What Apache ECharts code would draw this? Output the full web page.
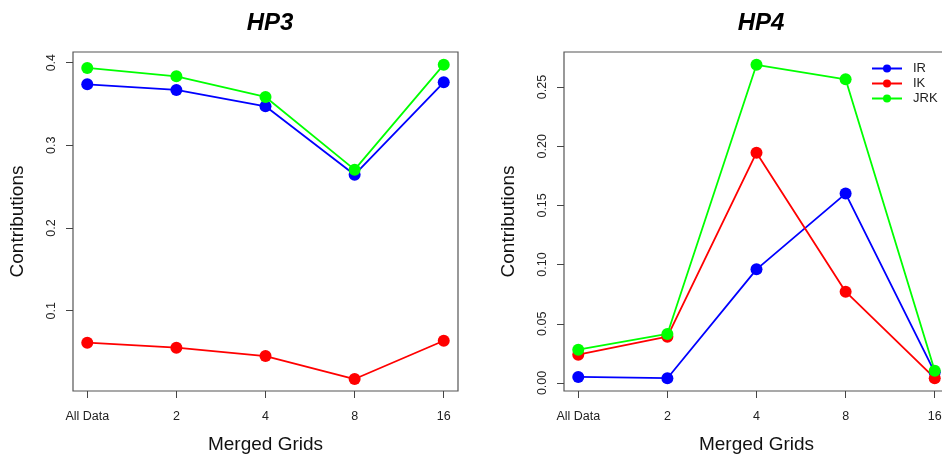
<!DOCTYPE html>
<html>
<head>
<meta charset="utf-8">
<script src="https://cdn.jsdelivr.net/npm/echarts@6/dist/echarts.min.js"></script>
<style>
  html, body { margin: 0; padding: 0; background: #fff; }
  #container { width: 942px; height: 456px; }
</style>
</head>
<body>
<div id="container"></div>
<script>
var categories = ['All Data', '2', '4', '8', '16'];
var seriesNames = ['IR', 'IK', 'JRK'];
var colors = ['#0000ff', '#ff0000', '#00ff00'];

// HP3 panel
var hp3IR = [0.3738, 0.3670, 0.3472, 0.2645, 0.3763];
var hp3IK = [0.0613, 0.0553, 0.0452, 0.0174, 0.0637];
var hp3JRK = [0.3936, 0.3835, 0.3585, 0.2706, 0.3976];

// HP4 panel
var hp4IR = [0.0051, 0.0040, 0.0960, 0.1600, 0.0090];
var hp4IK = [0.0239, 0.0391, 0.1945, 0.0771, 0.0040];
var hp4JRK = [0.0281, 0.0414, 0.2688, 0.2565, 0.0104];

var hp3Ticks = [0.1, 0.2, 0.3, 0.4];
var hp4Ticks = [0.00, 0.05, 0.10, 0.15, 0.20, 0.25];

var dom = document.getElementById('container');
var myChart = echarts.init(dom, null, { renderer: 'canvas' });

var font = 'Liberation Sans, Arial, sans-serif';
var xIdx = categories.map(function (c, i) { return i; });

function pairs(vals) {
  return vals.map(function (v, i) { return [i, v]; });
}

function xAxisFor(gridIndex) {
  return {
    type: 'value', gridIndex: gridIndex, min: -0.16, max: 4.16,
    name: 'Merged Grids', nameLocation: 'middle', nameGap: 44,
    nameTextStyle: { fontFamily: font, fontSize: 19, color: '#111' },
    axisLine: { show: false, onZero: false },
    splitLine: { show: false },
    axisTick: { show: true, length: 7, customValues: xIdx, lineStyle: { color: '#444' } },
    axisLabel: {
      customValues: xIdx, margin: 19, fontFamily: font, fontSize: 12.5, color: '#222',
      formatter: function (v) { return categories[Math.round(v)]; }
    }
  };
}

function yAxisFor(gridIndex, min, max, ticks, digits) {
  return {
    type: 'value', gridIndex: gridIndex, min: min, max: max,
    name: 'Contributions', nameLocation: 'middle', nameGap: 46, nameRotate: 90,
    nameTextStyle: { fontFamily: font, fontSize: 19, color: '#111' },
    axisLine: { show: false, onZero: false },
    splitLine: { show: false },
    axisTick: { show: true, length: 7, customValues: ticks, lineStyle: { color: '#444' } },
    axisLabel: {
      customValues: ticks, rotate: 90, margin: 15, fontFamily: font, fontSize: 12.5, color: '#222',
      formatter: function (v) { return v.toFixed(digits); }
    }
  };
}

function lineSeries(name, color, vals, idx) {
  return {
    name: name, type: 'line', xAxisIndex: idx, yAxisIndex: idx,
    data: pairs(vals),
    symbol: 'circle', symbolSize: 12,
    lineStyle: { color: color, width: 1.8 },
    itemStyle: { color: color },
    animation: false
  };
}

var option = {
  backgroundColor: '#fff',
  title: [
    { text: 'HP3', left: 265, top: 6, textAlign: 'center',
      textStyle: { fontFamily: font, fontSize: 24, fontWeight: 'bold', fontStyle: 'italic', color: '#000' } },
    { text: 'HP4', left: 756, top: 6, textAlign: 'center',
      textStyle: { fontFamily: font, fontSize: 24, fontWeight: 'bold', fontStyle: 'italic', color: '#000' } }
  ],
  legend: {
    data: seriesNames, orient: 'vertical', left: 866, top: 57,
    itemWidth: 30, itemHeight: 10, itemGap: 2,
    textStyle: { fontFamily: font, fontSize: 13, color: '#222', padding: [0, 0, 0, 6] }
  },
  grid: [
    { left: 73, top: 52, width: 385, height: 339, show: true, borderColor: '#555', borderWidth: 1.2,
      outerBoundsMode: 'none', containLabel: false },
    { left: 564, top: 52, width: 385, height: 339, show: true, borderColor: '#555', borderWidth: 1.2,
      outerBoundsMode: 'none', containLabel: false }
  ],
  xAxis: [xAxisFor(0), xAxisFor(1)],
  yAxis: [
    yAxisFor(0, 0.0029, 0.4129, hp3Ticks, 1),
    yAxisFor(1, -0.0068, 0.2796, hp4Ticks, 2)
  ],
  series: [
    lineSeries('IR', colors[0], hp3IR, 0),
    lineSeries('IK', colors[1], hp3IK, 0),
    lineSeries('JRK', colors[2], hp3JRK, 0),
    lineSeries('IR', colors[0], hp4IR, 1),
    lineSeries('IK', colors[1], hp4IK, 1),
    lineSeries('JRK', colors[2], hp4JRK, 1)
  ]
};

myChart.setOption(option);
window.addEventListener('resize', myChart.resize);
</script>
</body>
</html>
